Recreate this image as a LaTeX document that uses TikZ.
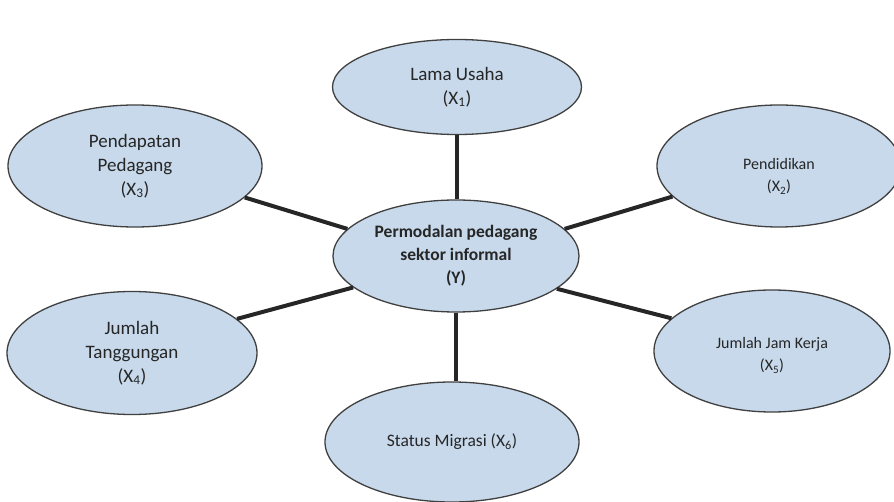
\documentclass[tikz,border=0pt]{standalone}
\usepackage{fontspec}
\setmainfont{Carlito}
\usetikzlibrary{shapes.geometric}

\definecolor{varfill}{RGB}{199,217,235}

\begin{document}
\begin{tikzpicture}[
    x=1pt, y=-1pt,
    var/.style={ellipse, draw=black!75, line width=1.3pt, fill=varfill, inner sep=0pt, align=center, text=black!85},
    big/.style={font=\fontsize{19}{24}\selectfont},
    small/.style={font=\fontsize{16}{22}\selectfont},
    link/.style={line width=4pt, black!85},
  ]
  \useasboundingbox (0,0) rectangle (894,502);

  % variables
  \node[var, big, minimum width=249pt, minimum height=95pt] (lama) at (457,87)
    {Lama Usaha\\(X\textsubscript{1})};
  \node[var, big, minimum width=254pt, minimum height=122pt] (dapat) at (135,166)
    {Pendapatan\\Pedagang\\(X\textsubscript{3})};
  \node[var, small, minimum width=244pt, minimum height=122pt] (didik) at (779,166)
    {\rule{0pt}{32pt}Pendidikan\\(X\textsubscript{2})};
  \node[var, font=\fontsize{17.5}{23}\selectfont\bfseries, minimum width=246pt, minimum height=112pt] (modal) at (456,256)
    {Permodalan pedagang\\sektor informal\\(Y)};
  \node[var, big, minimum width=250pt, minimum height=123pt] (tanggung) at (132,353)
    {Jumlah\\Tanggungan\\(X\textsubscript{4})};
  \node[var, small, minimum width=236pt, minimum height=122pt] (jamkerja) at (772,351)
    {\rule{0pt}{20pt}Jumlah Jam Kerja\\(X\textsubscript{5})};
  \node[var, font=\fontsize{17.5}{20}\selectfont, minimum width=254pt, minimum height=120pt] (migrasi) at (452,442)
    {Status Migrasi (X\textsubscript{6})};

  % links
  \draw[link] (lama.south) -- (lama.south |- modal.north);
  \draw[link] (modal.south) -- (modal.south |- migrasi.north);
  \draw[link] (dapat.-16) -- (modal.166);
  \draw[link] (modal.14) -- (didik.196);
  \draw[link] (tanggung.18) -- (modal.197);
  \draw[link] (modal.-18) -- (jamkerja.162);
\end{tikzpicture}
\end{document}
